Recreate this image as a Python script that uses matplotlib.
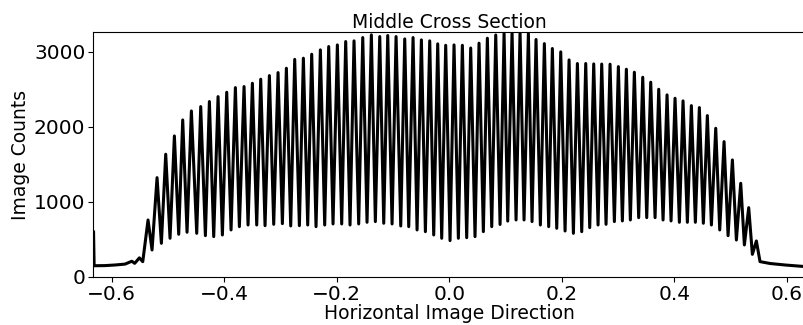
import numpy as np
import matplotlib
matplotlib.use("Agg")
import matplotlib.pyplot as plt

# flat region on the left before the fringes start
left_x = [-0.632, -0.631, -0.6116, -0.5938, -0.5760, -0.5641, -0.5589, -0.5506, -0.5446]
left_y = [600, 150, 152, 160, 172, 210, 182, 255, 204]

# fringe maxima
peak_x = [-0.5352, -0.5192, -0.5038, -0.4884, -0.4736, -0.4582, -0.4416, -0.4262, -0.4108, -0.3954,
          -0.3800, -0.3646, -0.3498, -0.3350, -0.3196, -0.3042, -0.2894, -0.2746, -0.2592, -0.2444,
          -0.2290, -0.2142, -0.1988, -0.1840, -0.1692, -0.1537, -0.1384, -0.1235, -0.1093, -0.0945,
          -0.0791, -0.0643, -0.0495, -0.0347, -0.0205, -0.0063, 0.0085, 0.0233, 0.0381, 0.0529,
          0.0677, 0.0826, 0.0974, 0.1116, 0.1258, 0.1406, 0.1542, 0.1690, 0.1832, 0.1981,
          0.2129, 0.2277, 0.2425, 0.2567, 0.2709, 0.2857, 0.3005, 0.3147, 0.3289, 0.3438,
          0.3580, 0.3722, 0.3870, 0.4012, 0.4154, 0.4302, 0.4444, 0.4586, 0.4735, 0.4883,
          0.5031, 0.5179, 0.5321, 0.5457]
peak_y = [760, 1324, 1636, 1880, 2093, 2213, 2271, 2338, 2404, 2462,
          2524, 2538, 2582, 2636, 2684, 2724, 2782, 2900, 2916, 2969,
          3027, 3071, 3093, 3138, 3147, 3191, 3227, 3204, 3218, 3204,
          3173, 3191, 3160, 3147, 3107, 3088, 3093, 3088, 3052, 3116,
          3182, 3225, 3245, 3262, 3262, 3245, 3165, 3110, 3045, 3000,
          2893, 2845, 2845, 2840, 2838, 2836, 2804, 2769, 2729, 2662,
          2596, 2502, 2427, 2382, 2347, 2284, 2258, 2151, 1982, 1804,
          1560, 1249, 924, 480]

# fringe minima
trough_x = [-0.5281, -0.5115, -0.4961, -0.4807, -0.4659, -0.4487, -0.4333, -0.4185, -0.4031, -0.3877,
            -0.3729, -0.3575, -0.3421, -0.3273, -0.3119, -0.2965, -0.2817, -0.2663, -0.2515, -0.2367,
            -0.2213, -0.2065, -0.1911, -0.1763, -0.1609, -0.1461, -0.1313, -0.1164, -0.1016, -0.0862,
            -0.0720, -0.0572, -0.0424, -0.0276, -0.0134, 0.0014, 0.0162, 0.0310, 0.0458, 0.0606,
            0.0755, 0.0903, 0.1039, 0.1187, 0.1329, 0.1471, 0.1619, 0.1767, 0.1910, 0.2058,
            0.2206, 0.2354, 0.2496, 0.2644, 0.2786, 0.2934, 0.3076, 0.3218, 0.3366, 0.3509,
            0.3657, 0.3799, 0.3941, 0.4089, 0.4231, 0.4373, 0.4515, 0.4658, 0.4806, 0.4954,
            0.5102, 0.5244, 0.5386]
trough_y = [360, 449, 516, 569, 596, 582, 551, 538, 560, 627,
            671, 693, 693, 684, 702, 711, 680, 684, 693, 671,
            693, 707, 707, 693, 707, 729, 738, 716, 707, 680,
            671, 627, 604, 560, 516, 485, 516, 524, 538, 604,
            671, 700, 745, 760, 760, 738, 693, 671, 649, 613,
            582, 604, 658, 693, 702, 738, 747, 760, 791, 791,
            791, 760, 747, 729, 729, 729, 716, 693, 627, 551,
            493, 427, 302]

# decay on the right after the fringes
tail_x = [0.5522, 0.5700, 0.5967, 0.6304]
tail_y = [205, 180, 160, 140]

x = np.array(left_x + peak_x + trough_x + tail_x)
y = np.array(left_y + peak_y + trough_y + tail_y)
order = np.argsort(x)
x = x[order]
y = y[order]

fig = plt.figure(figsize=(8.04, 3.25), dpi=100)
ax = fig.add_axes([93 / 804, 48 / 325, 712.5 / 804, 245 / 325])
ax.plot(x, y, color='black', linewidth=2.2)

ax.set_xlim(-0.633, 0.633)
ax.set_ylim(0, 3265)
ax.set_xticks([-0.6, -0.4, -0.2, 0.0, 0.2, 0.4, 0.6])
ax.set_yticks([0, 1000, 2000, 3000])
ax.tick_params(labelsize=14.5, pad=2)
ax.set_xlabel('Horizontal Image Direction', fontsize=13.5, labelpad=0)
ax.set_ylabel('Image Counts', fontsize=13.5, labelpad=3)
ax.set_title('Middle Cross Section', fontsize=13.5, pad=2)

fig.savefig('out.png', dpi=100)
